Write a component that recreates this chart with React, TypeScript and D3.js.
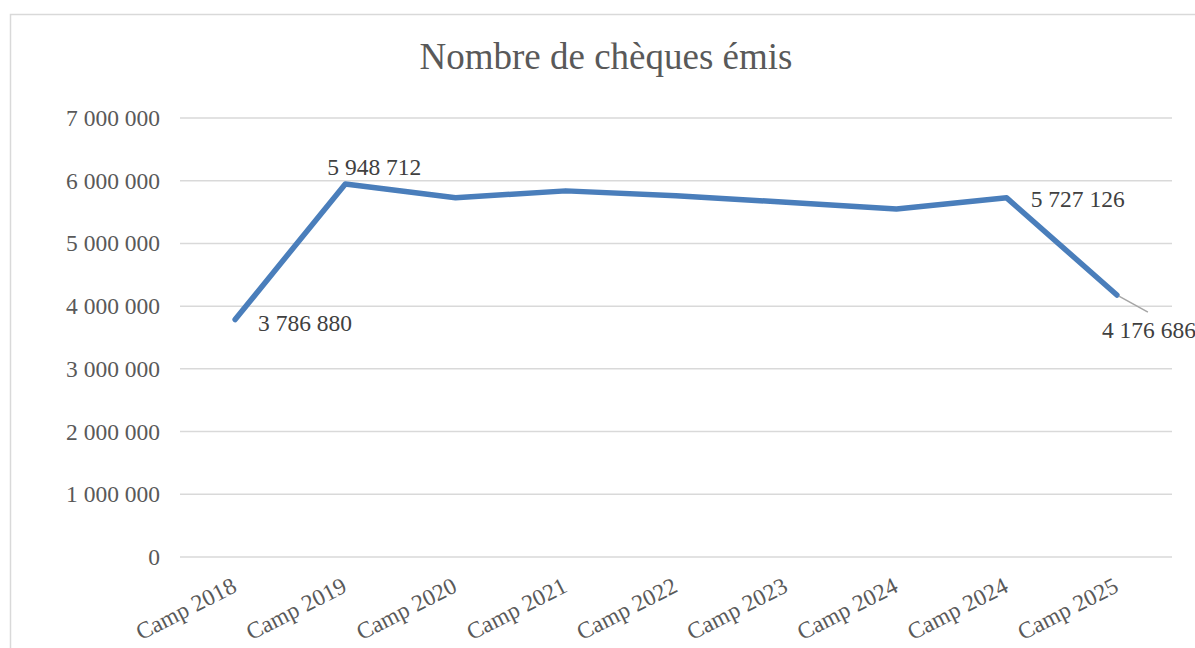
import React from "react";
import * as d3 from "d3";

const categories = ["Camp 2018", "Camp 2019", "Camp 2020", "Camp 2021", "Camp 2022", "Camp 2023", "Camp 2024", "Camp 2024", "Camp 2025"];
const values = [3786880, 5948712, 5730000, 5838000, 5760000, 5656000, 5549000, 5727126, 4176686];
const yTicks = [0, 1000000, 2000000, 3000000, 4000000, 5000000, 6000000, 7000000];
const labelled = [0, 1, 7, 8];
const title = "Nombre de chèques émis";

const W = 1195;
const H = 648;
const left = 180;
const right = 1172;
const top = 118;
const bottom = 557;
const FONT = "'Liberation Serif', 'Times New Roman', serif";

const fmt = (v: number) => {
  const s = Math.round(v).toString();
  return s.replace(/\B(?=(\d{3})+(?!\d))/g, " ");
};

export default function App() {
  const idx = categories.map((_, i) => i);
  const x = d3.scaleBand<number>().domain(idx).range([left, right]).paddingInner(0).paddingOuter(0);
  const cx = (i: number) => (x(i) as number) + x.bandwidth() / 2;
  const y = d3.scaleLinear().domain([0, 7000000]).range([bottom, top]);
  const line = d3
    .line<number>()
    .x((_, i) => cx(i))
    .y((d) => y(d));

  const labelPos: Record<number, [number, number]> = {
    0: [23, 11],
    1: [-18, -9],
    7: [24, 9],
    8: [-15, 43],
  };

  return (
    <svg
      width={W}
      height={H}
      style={{ position: "fixed", left: 0, top: 0, background: "#fff" }}
      fontFamily={FONT}
    >
      <rect x={0} y={0} width={W} height={H} fill="#fff" />
      <path d={`M10.5,${H} V14.5 H${W}`} fill="none" stroke="#d9d9d9" strokeWidth={1.5} />
      <text x={606} y={69} textAnchor="middle" fontSize={37} fill="#595959">
        {title}
      </text>
      {yTicks.map((t) => (
        <g key={t}>
          <line x1={left} x2={right} y1={y(t)} y2={y(t)} stroke="#d9d9d9" strokeWidth={1.5} />
          <text x={160} y={y(t) + 8} textAnchor="end" fontSize={23.5} fill="#595959">
            {fmt(t)}
          </text>
        </g>
      ))}
      {categories.map((c, i) => (
        <text
          key={i}
          transform={`translate(${cx(i) + 3},${591}) rotate(-27)`}
          textAnchor="end"
          fontSize={23.5}
          fill="#595959"
        >
          {c}
        </text>
      ))}
      <path
        d={line(values) as string}
        fill="none"
        stroke="#4a7ebb"
        strokeWidth={5.5}
        strokeLinecap="round"
        strokeLinejoin="round"
      />
      <line
        x1={cx(8) + 2}
        y1={y(values[8]) + 1}
        x2={cx(8) + 31}
        y2={y(values[8]) + 17}
        stroke="#a6a6a6"
        strokeWidth={1.5}
      />
      {labelled.map((i) => {
        const [dx, dy] = labelPos[i];
        return (
          <text
            key={i}
            x={cx(i) + dx}
            y={y(values[i]) + dy}
            textAnchor="start"
            fontSize={23.5}
            fill="#404040"
          >
            {fmt(values[i])}
          </text>
        );
      })}
    </svg>
  );
}
